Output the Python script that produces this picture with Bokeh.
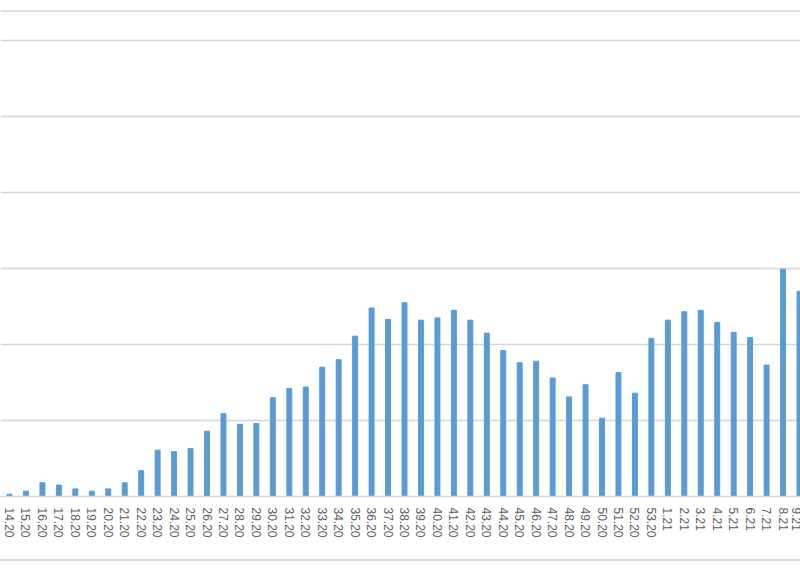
from bokeh.plotting import figure
from bokeh.models import FixedTicker, SingleIntervalTicker, Range1d, Span
from bokeh.embed import file_html
from bokeh.resources import INLINE

weeks = ["14.20", "15.20", "16.20", "17.20", "18.20", "19.20", "20.20", "21.20",
         "22.20", "23.20", "24.20", "25.20", "26.20", "27.20", "28.20", "29.20",
         "30.20", "31.20", "32.20", "33.20", "34.20", "35.20", "36.20", "37.20",
         "38.20", "39.20", "40.20", "41.20", "42.20", "43.20", "44.20", "45.20",
         "46.20", "47.20", "48.20", "49.20", "50.20", "51.20", "52.20", "53.20",
         "1.21", "2.21", "3.21", "4.21", "5.21", "6.21", "7.21", "8.21", "9.21"]
values = [3, 7, 18, 15, 10, 7, 10, 18,
          34, 61, 59, 63, 86, 109, 95, 96,
          130, 142, 144, 170, 180, 211, 248, 233,
          255, 232, 235, 245, 232, 215, 192, 176,
          178, 156, 131, 147, 103, 163, 136, 208,
          232, 243, 245, 229, 216, 209, 173, 299, 270]

idx = list(range(len(weeks)))

GRID = "#d6d6d6"
BLUE = "#5b9bd5"

p = figure(width=800, height=561, output_backend="svg", toolbar_location=None,
           x_range=Range1d(-0.547, 48.06), y_range=Range1d(0, 652.6),
           min_border_left=0, min_border_right=0, min_border_top=0,
           min_border_bottom=65)
p.outline_line_color = None
p.background_fill_color = "white"
p.border_fill_color = "white"

p.vbar(x=idx, top=values, width=0.3, color=BLUE)

p.yaxis.visible = False
p.ygrid.ticker = SingleIntervalTicker(interval=100)
p.ygrid.grid_line_color = GRID
p.ygrid.grid_line_width = 1.5
p.xgrid.grid_line_color = None

p.add_layout(Span(location=638.8, dimension="width", line_color=GRID, line_width=1.5))

xa = p.xaxis[0]
xa.ticker = FixedTicker(ticks=idx)
xa.major_label_overrides = {i: w for i, w in zip(idx, weeks)}
xa.major_label_orientation = "vertical"
xa.major_label_text_font = "Liberation Sans"
xa.major_label_text_font_size = "12px"
xa.major_label_text_color = "#606060"
xa.major_tick_line_color = None
xa.minor_tick_line_color = None
xa.major_tick_out = 0
xa.major_tick_in = 0
xa.major_label_standoff = 11
xa.axis_line_color = GRID
xa.axis_line_width = 1.5

p.styles = {"border-bottom": "2px solid #d6d6d6"}

open("out.html", "w").write(file_html(p, INLINE))
